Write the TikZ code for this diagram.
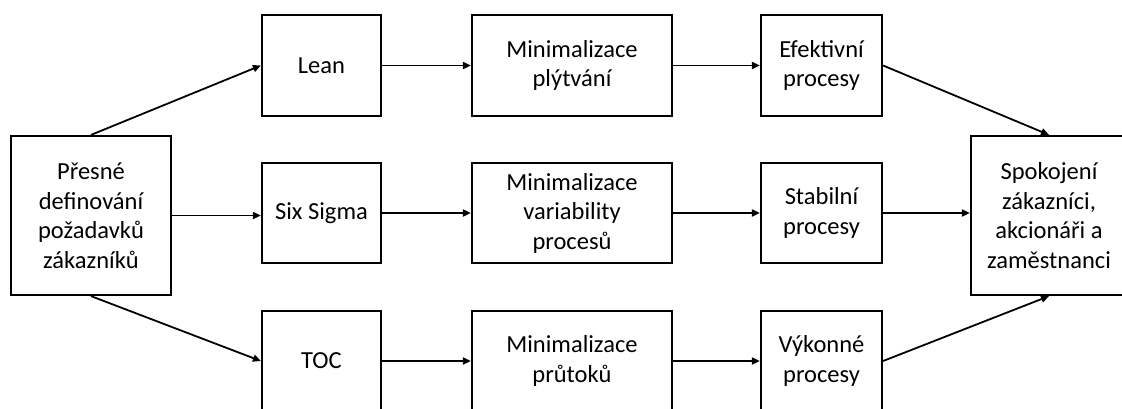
\documentclass[tikz,border=0pt]{standalone}
\usepackage{fontspec}
\setmainfont{Carlito}
\usetikzlibrary{arrows.meta}
\begin{document}
\begin{tikzpicture}[x=1pt,y=-1pt,
  box/.style={draw, line width=2.2pt, align=center, inner sep=0pt,
    font=\fontsize{24.5}{29.5}\selectfont},
  flow/.style={line width=1.8pt, -{Triangle[length=8pt,width=7pt]}}]
\useasboundingbox (0,0) rectangle (1122,408);
\clip (0,0) rectangle (1122,408);

% input and outcome
\node[box, minimum width=160pt, minimum height=159pt] (req) at (91,215.5)
  {Přesné\\definování\\požadavků\\zákazníků};
\node[box, minimum width=156pt, minimum height=159pt] (out) at (1049,215.5)
  {Spokojení\\zákazníci,\\akcionáři a\\zaměstnanci};

% methods
\node[box, minimum width=119pt, minimum height=101pt] (lean) at (321.5,65.5) {Lean};
\node[box, minimum width=119pt, minimum height=100pt] (six) at (321.5,213) {Six Sigma};
\node[box, minimum width=119pt, minimum height=100pt] (toc) at (321.5,361) {TOC};

% goals
\node[box, minimum width=200pt, minimum height=101pt] (m1) at (572,65.5) {Minimalizace\\plýtvání};
\node[box, minimum width=200pt, minimum height=100pt] (m2) at (572,213) {Minimalizace\\variability\\procesů};
\node[box, minimum width=200pt, minimum height=100pt] (m3) at (572,361) {Minimalizace\\průtoků};

% resulting processes
\node[box, minimum width=121pt, minimum height=101pt] (p1) at (821.5,65.5) {Efektivní\\procesy};
\node[box, minimum width=121pt, minimum height=100pt] (p2) at (821.5,213) {Stabilní\\procesy};
\node[box, minimum width=121pt, minimum height=100pt] (p3) at (821.5,361) {Výkonné\\procesy};

% connectors
\draw[flow] (req.north) -- (lean.west);
\draw[flow] (req.east) -- (req.east -| six.west);
\draw[flow] (req.south) -- (toc.west);

\draw[flow] (lean.east) -- (m1.west);
\draw[flow] (six.east) -- (m2.west);
\draw[flow] (toc.east) -- (m3.west);

\draw[flow] (m1.east) -- (p1.west);
\draw[flow] (m2.east) -- (p2.west);
\draw[flow] (m3.east) -- (p3.west);

\draw[flow] (p1.east) -- (out.north);
\draw[flow] (p2.east) -- (p2.east -| out.west);
\draw[flow] (p3.east) -- (out.south);
\end{tikzpicture}
\end{document}
